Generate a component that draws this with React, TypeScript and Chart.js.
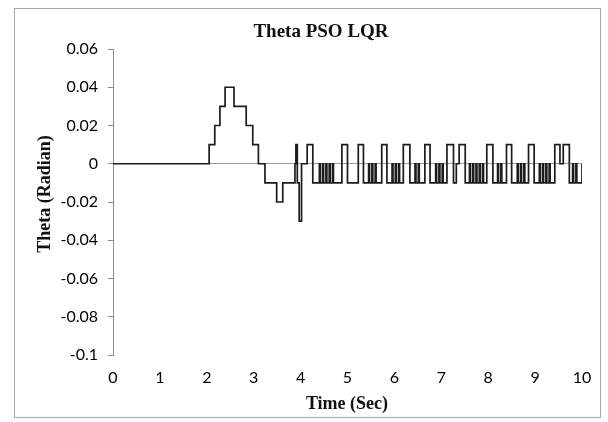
import React, { useEffect, useRef } from "react";
import { Chart, registerables } from "chart.js";

Chart.register(...registerables);

const chartTitle = "Theta PSO LQR";
const xTitle = "Time (Sec)";
const yTitle = "Theta (Radian)";
const xTickValues = [0, 1, 2, 3, 4, 5, 6, 7, 8, 9, 10];
const yTickValues = [-0.1, -0.08, -0.06, -0.04, -0.02, 0, 0.02, 0.04, 0.06];

// change points of the stepped signal: value holds from time until the next time
const times = [
  0, 2.05, 2.17, 2.28, 2.39, 2.58, 2.84, 2.98, 3.1, 3.24, 3.49, 3.62, 3.88, 3.9, 3.93, 3.97, 4.02,
  4.14, 4.26, 4.4, 4.42, 4.47, 4.49, 4.54, 4.56, 4.61, 4.63, 4.68, 4.7,
  4.88, 5.0, 5.23, 5.34, 5.45, 5.47, 5.52, 5.54, 5.59, 5.61,
  5.73, 5.84, 5.95, 5.97, 6.02, 6.04, 6.09, 6.11,
  6.19, 6.33, 6.44, 6.46, 6.51, 6.53,
  6.65, 6.76, 6.88, 6.9, 6.95, 6.97, 7.02, 7.04,
  7.12, 7.26, 7.32, 7.38, 7.51, 7.6, 7.62, 7.67, 7.69, 7.74, 7.76, 7.81, 7.83, 7.88, 7.9,
  7.97, 8.1, 8.2, 8.22, 8.27, 8.29,
  8.39, 8.5, 8.62, 8.64, 8.69, 8.71, 8.76, 8.78,
  8.86, 8.98, 9.09, 9.11, 9.16, 9.18, 9.23, 9.25, 9.3, 9.32,
  9.42, 9.53, 9.6, 9.73, 9.8, 9.82, 9.87, 9.89, 10.0,
];
const theta = [
  0, 0.01, 0.02, 0.03, 0.04, 0.03, 0.02, 0.01, 0, -0.01, -0.02, -0.01, 0, 0.01, -0.01, -0.03, 0,
  0.01, -0.01, 0, -0.01, 0, -0.01, 0, -0.01, 0, -0.01, 0, -0.01,
  0.01, -0.01, 0.01, -0.01, 0, -0.01, 0, -0.01, 0, -0.01,
  0.01, -0.01, 0, -0.01, 0, -0.01, 0, -0.01,
  0.01, -0.01, 0, -0.01, 0, -0.01,
  0.01, -0.01, 0, -0.01, 0, -0.01, 0, -0.01,
  0.01, -0.01, 0, 0.01, -0.01, 0, -0.01, 0, -0.01, 0, -0.01, 0, -0.01, 0, -0.01,
  0.01, -0.01, 0, -0.01, 0, -0.01,
  0.01, -0.01, 0, -0.01, 0, -0.01, 0, -0.01,
  0.01, -0.01, 0, -0.01, 0, -0.01, 0, -0.01, 0, -0.01,
  0.01, 0, 0.01, -0.01, 0, -0.01, 0, -0.01, 0,
];

const frameAndTitle = {
  id: "frameAndTitle",
  beforeDraw(chart: any) {
    const ctx = chart.ctx;
    ctx.save();
    ctx.fillStyle = "#ffffff";
    ctx.fillRect(0, 0, chart.width, chart.height);
    ctx.strokeStyle = "#a8a8a8";
    ctx.lineWidth = 1;
    ctx.strokeRect(14.5, 8.5, 586, 409);
    ctx.restore();
  },
  afterDraw(chart: any) {
    const ctx = chart.ctx;
    ctx.save();
    ctx.fillStyle = "#111";
    ctx.textAlign = "center";
    ctx.textBaseline = "middle";
    ctx.font = "bold 19px 'Liberation Serif', 'DejaVu Serif', serif";
    ctx.fillText(chartTitle, 321, 32);
    ctx.font = "bold 18px 'Liberation Serif', 'DejaVu Serif', serif";
    ctx.fillText(xTitle, 347, 404);
    ctx.translate(45, 194);
    ctx.rotate(-Math.PI / 2);
    ctx.fillText(yTitle, 0, 0);
    ctx.restore();
  },
};

export default function App() {
  const ref = useRef<HTMLCanvasElement>(null);
  useEffect(() => {
    document.body.style.margin = "0";
    const data = times.map((t, i) => ({ x: t, y: theta[i] }));
    const chart = new Chart(ref.current as HTMLCanvasElement, {
      type: "line",
      data: {
        datasets: [
          {
            data,
            stepped: "before",
            borderColor: "#1c1c1c",
            borderWidth: 1.7,
            pointRadius: 0,
            fill: false,
          },
        ],
      },
      options: {
        animation: false,
        responsive: false,
        devicePixelRatio: 1,
        layout: { padding: { top: 49, right: 26, left: 0, bottom: 0 } },
        plugins: { legend: { display: false }, tooltip: { enabled: false }, title: { display: false } },
        scales: {
          x: {
            type: "linear",
            min: 0,
            max: 10,
            afterBuildTicks: (s: any) => {
              s.ticks = xTickValues.map((v) => ({ value: v }));
            },
            afterFit: (s: any) => {
              s.height = 67;
            },
            border: { display: false },
            grid: { display: false, drawTicks: false },
            ticks: {
              padding: 13,
              color: "#000",
              font: { family: "Lato, 'Liberation Sans', sans-serif", size: 16 },
              callback: (v: any) => String(v),
            },
          },
          y: {
            type: "linear",
            min: -0.1,
            max: 0.06,
            afterBuildTicks: (s: any) => {
              s.ticks = yTickValues.map((v) => ({ value: v }));
            },
            afterFit: (s: any) => {
              s.width = 113;
            },
            border: { display: true, color: "#8c8c8c", width: 1 },
            grid: {
              drawOnChartArea: true,
              drawTicks: true,
              tickLength: 5,
              color: (c: any) => (c.tick && Math.abs(c.tick.value) < 1e-9 ? "#9a9a9a" : "rgba(0,0,0,0)"),
              tickColor: "#8c8c8c",
            },
            ticks: {
              padding: 10,
              color: "#000",
              font: { family: "Lato, 'Liberation Sans', sans-serif", size: 16 },
              callback: (v: any) => String(Number(Number(v).toFixed(2))),
            },
          },
        },
      },
      plugins: [frameAndTitle],
    });
    return () => chart.destroy();
  }, []);
  return (
    <div style={{ position: "absolute", left: 0, top: 0, width: 608, height: 422 }}>
      <canvas ref={ref} width={608} height={422} style={{ width: 608, height: 422 }} />
    </div>
  );
}
